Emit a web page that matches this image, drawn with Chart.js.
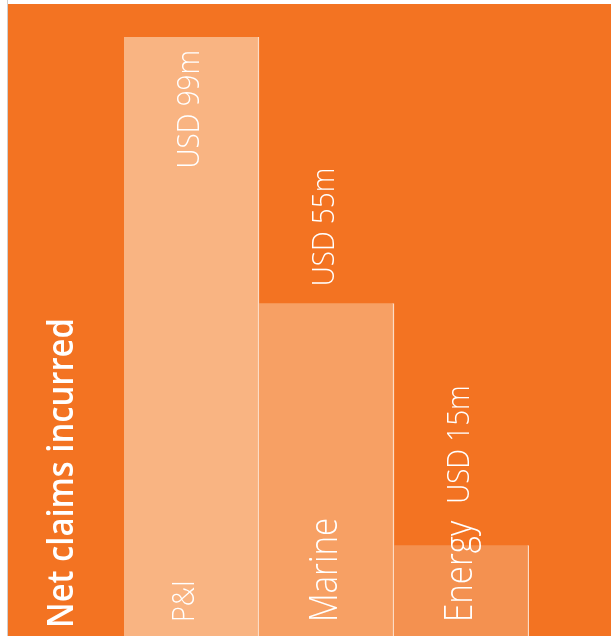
<!DOCTYPE html>
<html>
<head>
<meta charset="utf-8">
<script src="https://cdn.jsdelivr.net/npm/chart.js@4"></script>
<style>
  html, body { margin: 0; padding: 0; background: #ffffff; overflow: hidden; }
  canvas { display: block; }
</style>
</head>
<body>
<canvas id="c" width="611" height="636"></canvas>
<script>
// ---- data ----
const categories = ["P&I", "Marine", "Energy"];
const netClaimsUSDm = [99, 55, 15];
const valueLabels = ["USD 99m", "USD 55m", "USD 15m"];
const chartTitle = "Net claims incurred";

// ---- styles ----
const barColors = ["#F9B482", "#F7A064", "#F49150"];
const bgOrange = "#F37322";
const catFontSizes = [31, 38, 38];

const labelPlugin = {
  id: "labels",
  beforeDraw(chart) {
    const ctx = chart.ctx;
    ctx.save();
    ctx.fillStyle = "#ffffff";
    ctx.fillRect(0, 0, chart.width, chart.height);
    ctx.fillStyle = "#cfcfcf";
    ctx.fillRect(7, 0, 1, chart.height);
    ctx.fillStyle = bgOrange;
    ctx.fillRect(8, 4, chart.width - 8, chart.height - 4);
    ctx.restore();
  },
  afterDatasetsDraw(chart) {
    const ctx = chart.ctx;
    const meta = chart.getDatasetMeta(0);
    function rotText(text, xBase, yStart, font, squeeze) {
      ctx.save();
      ctx.translate(xBase, yStart);
      ctx.rotate(-Math.PI / 2);
      ctx.font = font;
      ctx.fillStyle = "#ffffff";
      ctx.textAlign = "left";
      ctx.textBaseline = "alphabetic";
      ctx.scale(squeeze, 1);
      ctx.fillText(text, 0, 0);
      const w = ctx.measureText(text).width * squeeze;
      ctx.restore();
      return w;
    }
    function textLen(text, font, squeeze) {
      ctx.save();
      ctx.font = font;
      const w = ctx.measureText(text).width * squeeze;
      ctx.restore();
      return w;
    }
    const lightSq = 0.87;
    const catStart = 622;
    meta.data.forEach((bar, i) => {
      const cx = bar.x;
      // category label
      const cFont = "300 " + catFontSizes[i] + "px 'Open Sans'";
      const cOff = catFontSizes[i] < 35 ? 2 : 10;
      const cLen = rotText(categories[i], cx + cOff, catStart, cFont, lightSq);
      // value label
      const vFont = "300 32px 'Open Sans'";
      const vLen = textLen(valueLabels[i], vFont, lightSq);
      let start;
      if (bar.y - 17 - vLen < 14) {
        start = bar.y + 13 + vLen; // inside the bar
      } else {
        start = Math.min(bar.y - 17, catStart - cLen - 17);
      }
      rotText(valueLabels[i], cx + 7, start, vFont, lightSq);
    });
    // title
    rotText(chartTitle, 73, 628, "600 36px 'Open Sans'", 0.91);
  }
};

new Chart(document.getElementById("c"), {
  type: "bar",
  data: {
    labels: categories,
    datasets: [{
      data: netClaimsUSDm,
      backgroundColor: barColors,
      borderColor: "#FCDCC6",
      borderWidth: { top: 0, left: 0, bottom: 0, right: 1.5 },
      borderSkipped: false,
      categoryPercentage: 1,
      barPercentage: 1
    }]
  },
  options: {
    responsive: false,
    animation: false,
    devicePixelRatio: 1,
    layout: { padding: { top: 37, left: 124, right: 82, bottom: 0 } },
    plugins: { legend: { display: false }, tooltip: { enabled: false } },
    scales: {
      x: { display: false },
      y: { display: false, min: 0, max: 99 }
    }
  },
  plugins: [labelPlugin]
});
</script>
</body>
</html>
